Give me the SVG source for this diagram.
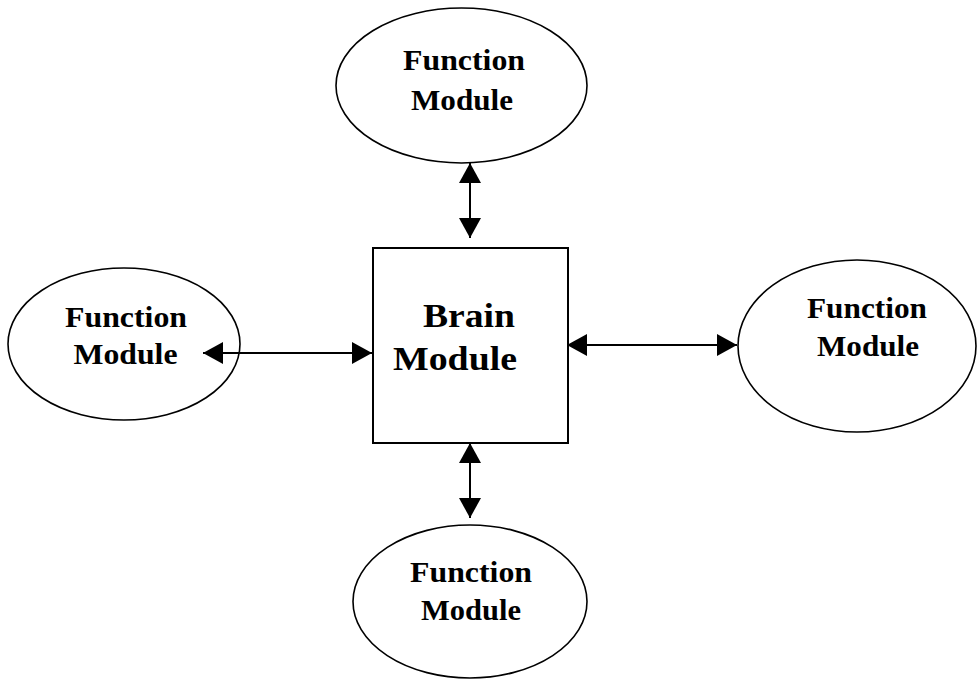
<svg xmlns="http://www.w3.org/2000/svg" width="978" height="679" viewBox="0 0 978 679">
  <defs>
    <marker id="head" viewBox="0 0 20 22" refX="20" refY="11" markerWidth="20" markerHeight="22" markerUnits="userSpaceOnUse" orient="auto-start-reverse">
      <path d="M0,0 L20,11 L0,22 Z" fill="#000"/>
    </marker>
    <style>
      .shape { fill: #fff; stroke: #000; stroke-width: 1.6; }
      .box { fill: #fff; stroke: #000; stroke-width: 2; }
      .lbl { font-family: "Liberation Serif", "Times New Roman", serif; font-weight: bold; font-size: 29px; fill: #000; text-anchor: middle; }
      .big { font-size: 33px; }
      .link { stroke: #000; stroke-width: 2; fill: none; marker-start: url(#head); marker-end: url(#head); }
    </style>
  </defs>
  <rect width="978" height="679" fill="#fff"/>

  <g id="brain">
    <rect class="box" x="373" y="248" width="195" height="195"/>
    <text class="lbl big" x="469" y="327" textLength="92" lengthAdjust="spacingAndGlyphs">Brain</text>
    <text class="lbl big" x="455" y="370" textLength="124" lengthAdjust="spacingAndGlyphs">Module</text>
  </g>

  <g id="fn-top">
    <ellipse class="shape" cx="461.5" cy="85.5" rx="125.5" ry="77.5"/>
    <text class="lbl" x="464" y="70" textLength="122" lengthAdjust="spacingAndGlyphs">Function</text>
    <text class="lbl" x="462" y="110" textLength="102" lengthAdjust="spacingAndGlyphs">Module</text>
  </g>

  <g id="fn-left">
    <ellipse class="shape" cx="124" cy="344" rx="116" ry="76"/>
    <text class="lbl" x="126" y="327" textLength="122" lengthAdjust="spacingAndGlyphs">Function</text>
    <text class="lbl" x="125.5" y="364" textLength="104" lengthAdjust="spacingAndGlyphs">Module</text>
  </g>

  <g id="fn-right">
    <ellipse class="shape" cx="857" cy="346" rx="119" ry="86"/>
    <text class="lbl" x="867" y="318" textLength="120" lengthAdjust="spacingAndGlyphs">Function</text>
    <text class="lbl" x="868" y="356" textLength="102" lengthAdjust="spacingAndGlyphs">Module</text>
  </g>

  <g id="fn-bottom">
    <ellipse class="shape" cx="470" cy="601.5" rx="117" ry="76.5"/>
    <text class="lbl" x="471" y="582" textLength="122" lengthAdjust="spacingAndGlyphs">Function</text>
    <text class="lbl" x="471" y="620" textLength="100" lengthAdjust="spacingAndGlyphs">Module</text>
  </g>

  <!-- double-headed links, drawn over the shapes so the left arrow shows inside its ellipse -->
  <g id="connectors">
    <line class="link" x1="470" y1="163" x2="470" y2="238"/>
    <line class="link" x1="203" y1="353" x2="372" y2="353"/>
    <line class="link" x1="567" y1="345" x2="737" y2="345"/>
    <line class="link" x1="470" y1="443" x2="470" y2="518"/>
  </g>
</svg>
